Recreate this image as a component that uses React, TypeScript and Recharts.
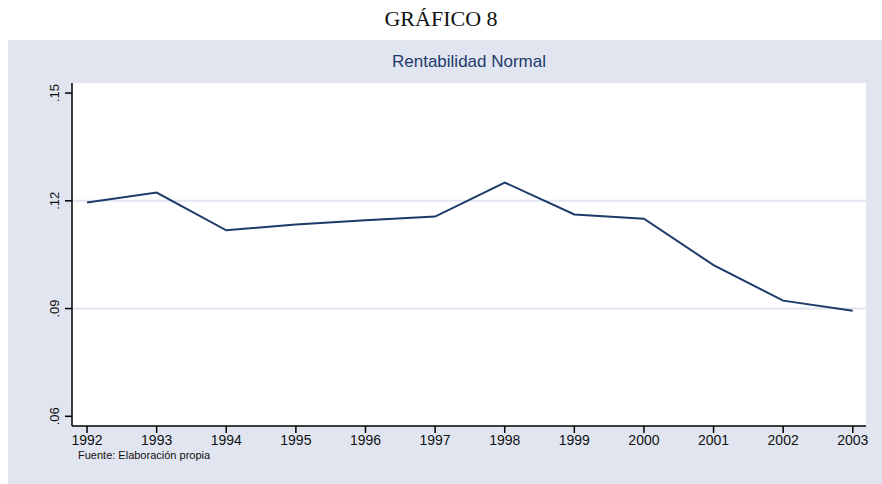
import React from "react";
import { LineChart, Line, XAxis, YAxis, CartesianGrid } from "recharts";

const years = [1992, 1993, 1994, 1995, 1996, 1997, 1998, 1999, 2000, 2001, 2002, 2003];
const rentabilidad = [0.1195, 0.1223, 0.1118, 0.1134, 0.1146, 0.1156, 0.1251, 0.1162, 0.115, 0.1021, 0.0922, 0.0894];
const yTicks = [0.06, 0.09, 0.12, 0.15];
const yTickLabels = [".06", ".09", ".12", ".15"];
const gridValues = [0.09, 0.12];

const data = years.map((y, i) => ({ year: y, value: rentabilidad[i] }));

const PANEL = "#e1e5f0";
const NAVY = "#1e3a6b";

const YTick = (props: any) => {
  const { x, y, payload } = props;
  const idx = yTicks.indexOf(payload.value);
  const label = idx >= 0 ? yTickLabels[idx] : String(payload.value);
  return (
    <text
      x={x - 4}
      y={y}
      transform={`rotate(-90 ${x - 4} ${y})`}
      textAnchor="middle"
      fontFamily="Arial, 'Liberation Sans', sans-serif"
      fontSize={13}
      fill="#111"
    >
      {label}
    </text>
  );
};

export default function App() {
  return (
    <div style={{ position: "fixed", left: 0, top: 0, width: 882, height: 484, overflow: "hidden", background: "#fff" }}>
      <div
        style={{
          position: "absolute",
          left: 0,
          width: 882,
          top: 6,
          textAlign: "center",
          fontFamily: "'Liberation Serif', 'Times New Roman', serif",
          fontSize: 22,
          color: "#111",
          lineHeight: "26px",
        }}
      >
        GRÁFICO 8
      </div>
      <div style={{ position: "absolute", left: 8, top: 40, width: 874, height: 444, background: PANEL }}>
        <div
          style={{
            position: "absolute",
            left: 64,
            width: 794,
            top: 12,
            textAlign: "center",
            fontFamily: "Arial, 'Liberation Sans', sans-serif",
            fontSize: 17,
            color: NAVY,
            lineHeight: "20px",
          }}
        >
          Rentabilidad Normal
        </div>
        <LineChart
          width={874}
          height={444}
          data={data}
          margin={{ top: 43, right: 16, bottom: 28, left: 0 }}
        >
          <CartesianGrid
            fill="#ffffff"
            vertical={false}
            horizontalValues={gridValues}
            stroke="#e1e5f0"
            strokeWidth={2}
          />
          <XAxis
            dataKey="year"
            type="number"
            domain={[1991.784, 2003.19]}
            ticks={years}
            allowDataOverflow
            stroke="#000"
            strokeWidth={1.5}
            tickSize={7}
            tickLine={{ stroke: "#000", strokeWidth: 1.5 }}
            height={30}
            tick={{ fontFamily: "Arial, 'Liberation Sans', sans-serif", fontSize: 14, fill: "#111" }}
          />
          <YAxis
            type="number"
            domain={[0.0573, 0.1528]}
            ticks={yTicks}
            allowDataOverflow
            width={64}
            stroke="#000"
            strokeWidth={1.5}
            tickSize={7}
            tickLine={{ stroke: "#000", strokeWidth: 1.5 }}
            tick={<YTick />}
          />
          <Line
            type="linear"
            dataKey="value"
            stroke={NAVY}
            strokeWidth={2}
            dot={false}
            isAnimationActive={false}
          />
        </LineChart>
        <div
          style={{
            position: "absolute",
            left: 70,
            top: 409,
            fontFamily: "Arial, 'Liberation Sans', sans-serif",
            fontSize: 11,
            color: "#111",
            whiteSpace: "nowrap",
          }}
        >
          Fuente: Elaboración propia
        </div>
      </div>
    </div>
  );
}
